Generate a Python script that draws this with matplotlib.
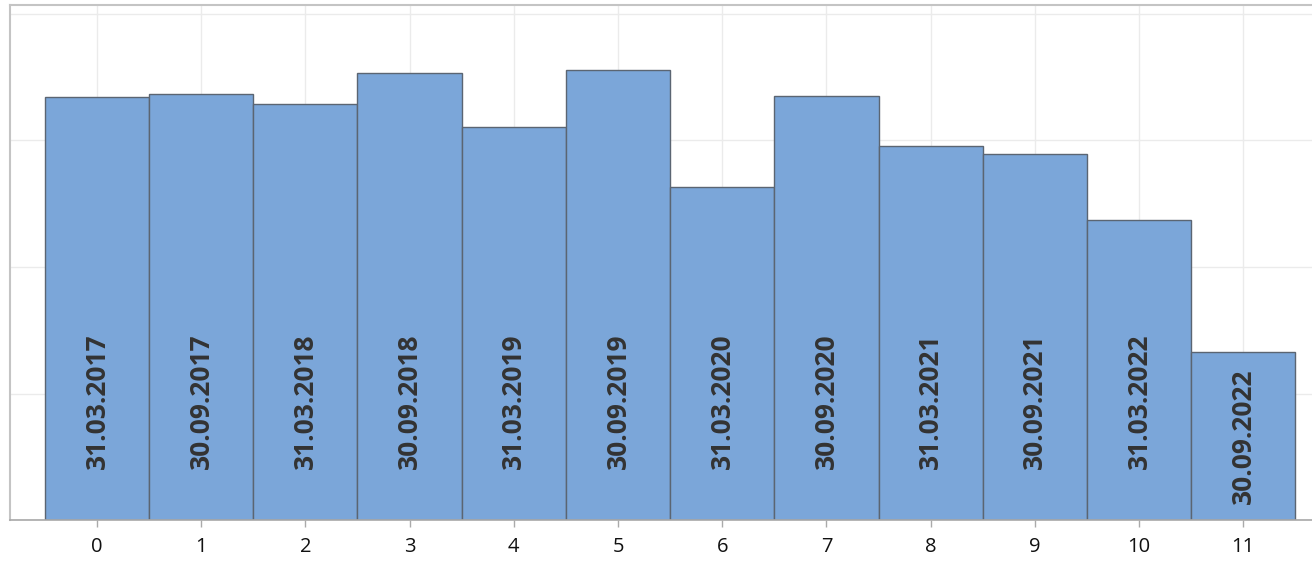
import matplotlib.pyplot as plt

# values (y grid step = 1)
positions = [0, 1, 2, 3, 4, 5, 6, 7, 8, 9, 10, 11]
values = [3.34, 3.37, 3.29, 3.53, 3.11, 3.56, 2.63, 3.35, 2.96, 2.89, 2.37, 1.33]
dates = ["31.03.2017", "30.09.2017", "31.03.2018", "30.09.2018",
         "31.03.2019", "30.09.2019", "31.03.2020", "30.09.2020",
         "31.03.2021", "30.09.2021", "31.03.2022", "30.09.2022"]

plt.rcParams['font.family'] = ['Open Sans', 'DejaVu Sans']

fig = plt.figure(figsize=(13.12, 5.61), dpi=100)
ax = fig.add_axes([0.0076, 0.073, 0.9924, 0.918])

ax.bar(positions, values, width=1.0, color="#7ba6d9",
       edgecolor="#5b6572", linewidth=1.0, zorder=2)

for x, v, d in zip(positions, values, dates):
    ax.text(x, min(v / 2, 0.94), d, rotation=90, ha="center", va="center",
            fontsize=19, fontweight="bold", color="#333333", zorder=3)

ax.set_xlim(-0.835, 11.66)
ax.set_ylim(0, 4.07)
ax.set_xticks(positions)
ax.set_xticklabels([str(p) for p in positions], fontsize=14.5, color="#111111")
ax.set_yticks([0, 1, 2, 3, 4])
ax.set_yticklabels([])
ax.tick_params(axis="y", length=0)
ax.tick_params(axis="x", length=5, color="#aaaaaa", width=1, pad=7)
ax.grid(True, color="#ebebeb", linewidth=1, zorder=0)
ax.set_axisbelow(True)

for side in ["left", "top"]:
    ax.spines[side].set_color("#c4c4c4")
    ax.spines[side].set_linewidth(1.5)
ax.spines["bottom"].set_color("#a8a8a8")
ax.spines["bottom"].set_linewidth(1.2)
ax.spines["right"].set_visible(False)

fig.savefig("out.png", dpi=100)
